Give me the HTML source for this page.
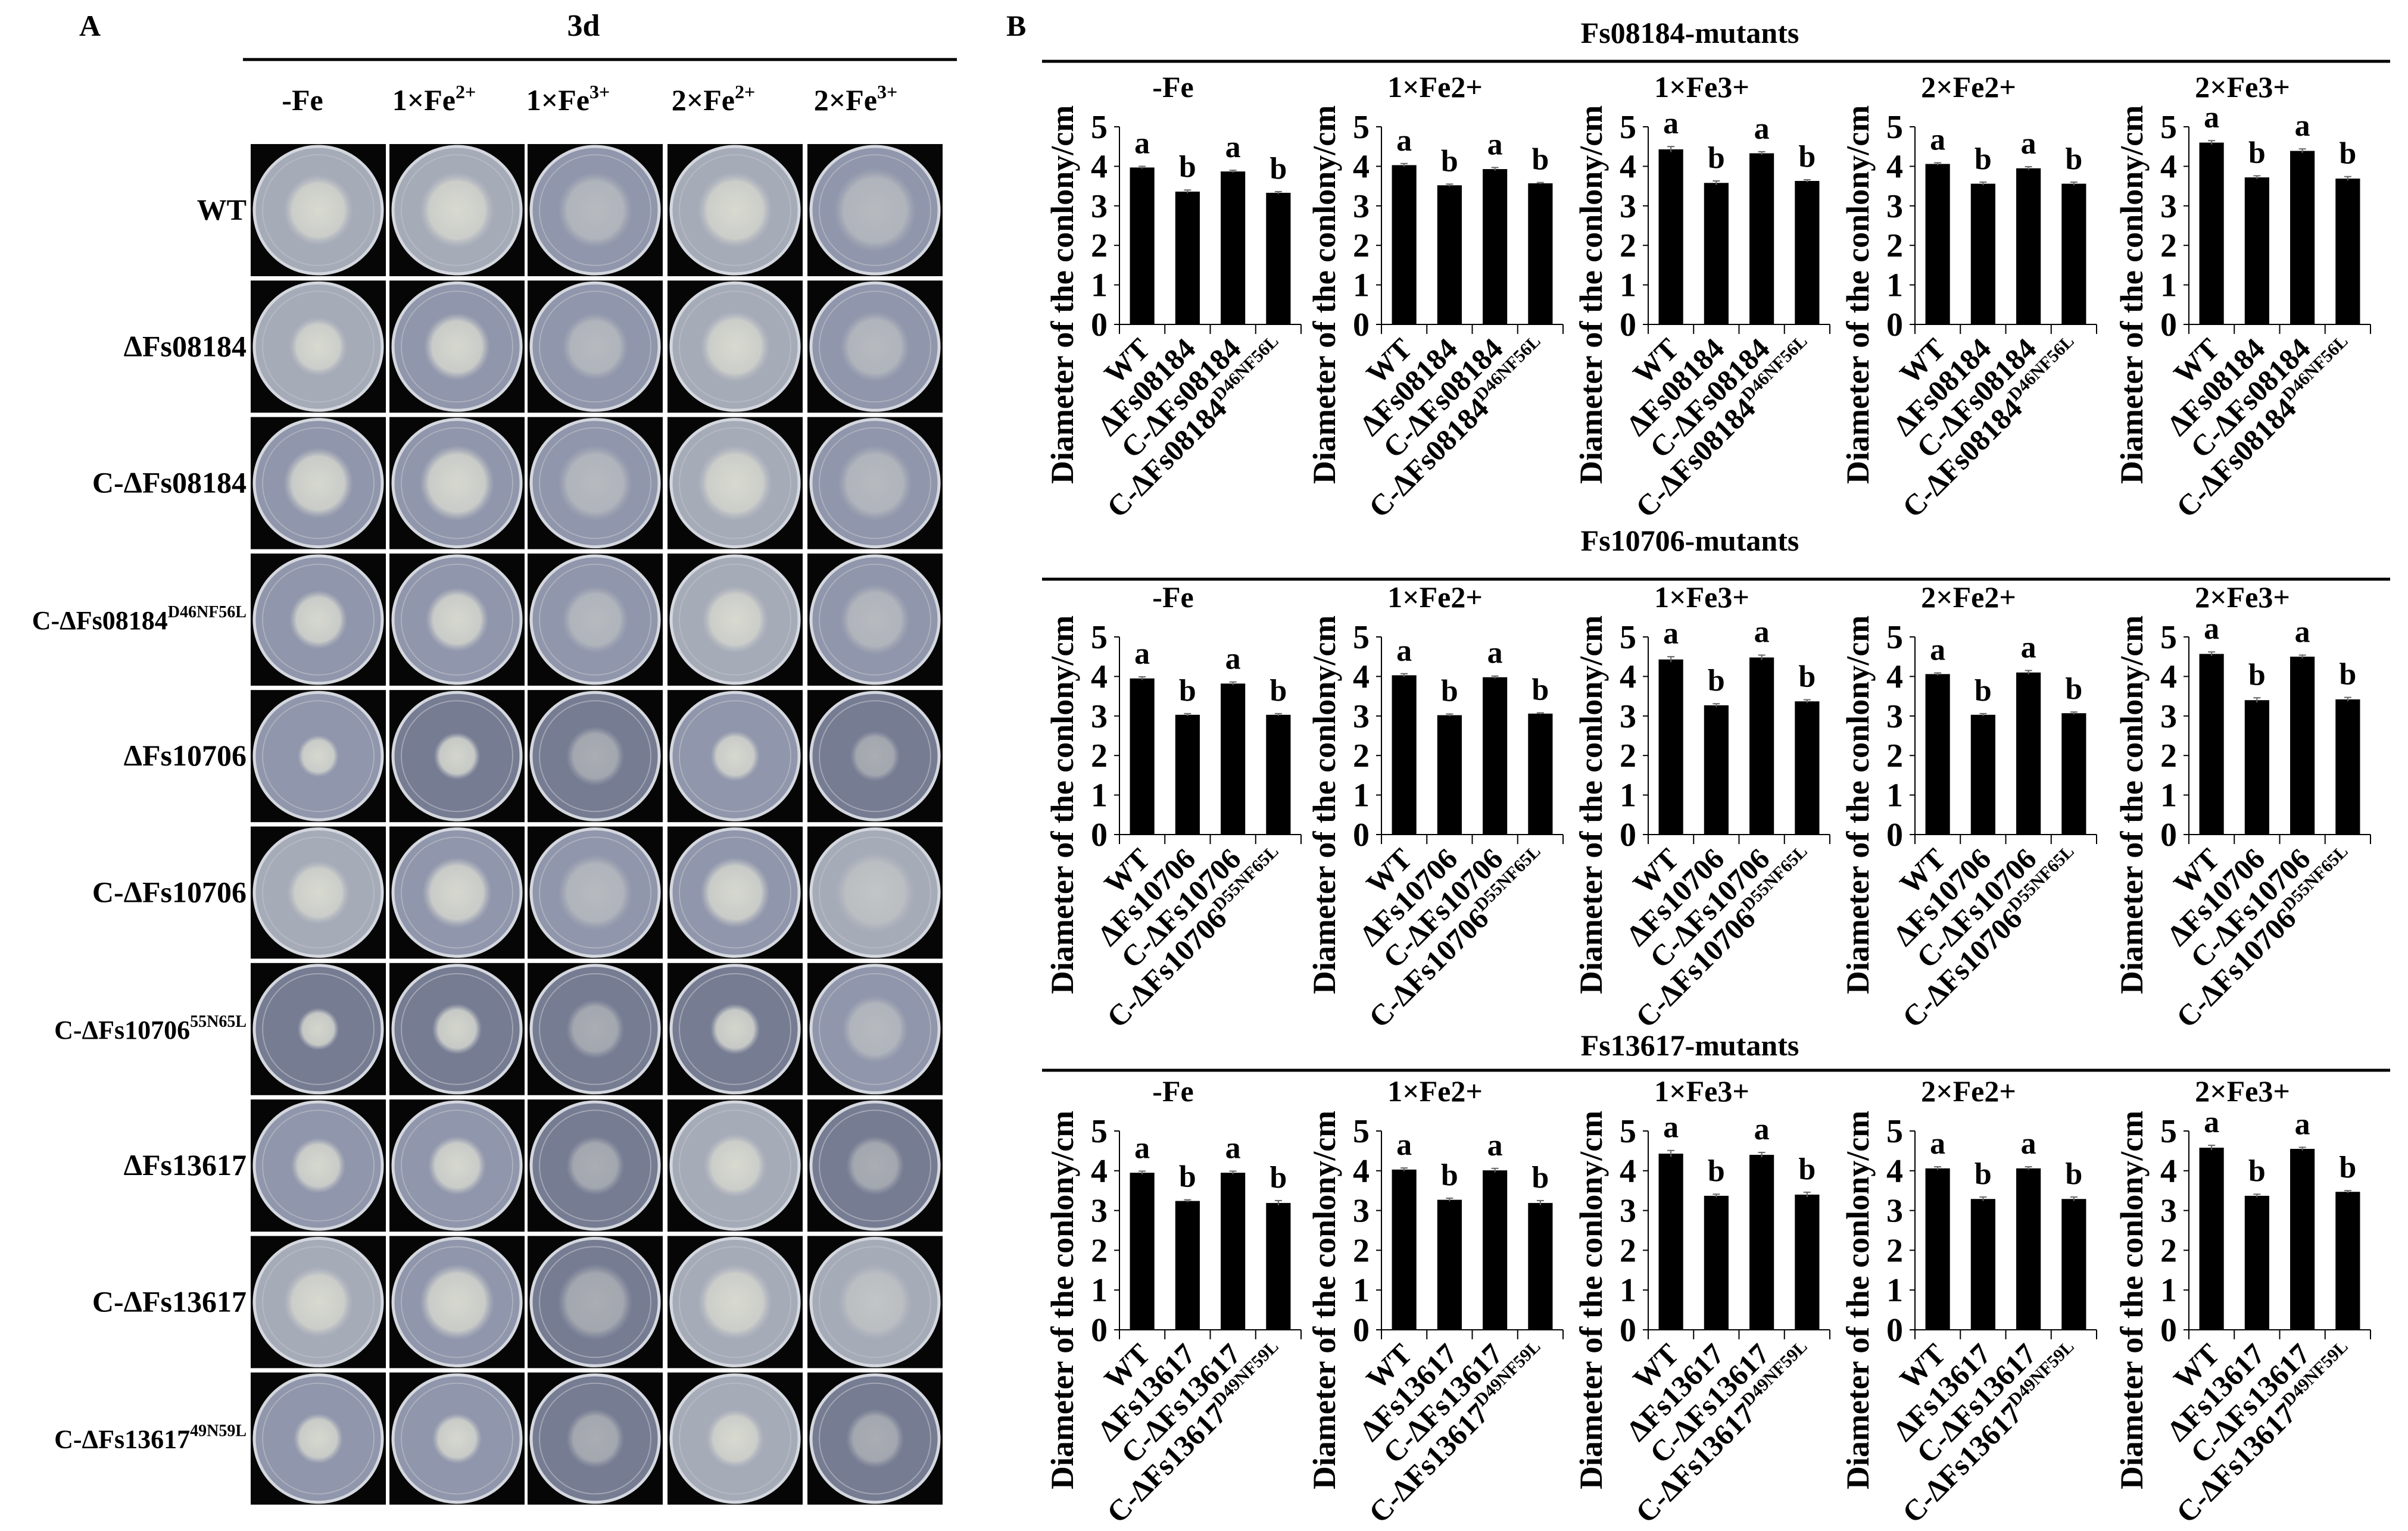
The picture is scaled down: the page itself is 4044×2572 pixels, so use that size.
<!DOCTYPE html>
<html><head><meta charset="utf-8"><style>
html,body{margin:0;padding:0;background:#fff;}
svg{display:block;}
text{font-family:"Liberation Serif",serif;font-weight:bold;fill:#000;}
</style></head><body>
<svg id="fig" width="4044" height="2572" viewBox="0 0 4044 2572" xmlns="http://www.w3.org/2000/svg">
<defs>
<radialGradient id="colG" cx="50%" cy="50%" r="50%"><stop offset="0" stop-color="#dedfd3"/><stop offset="0.75" stop-color="#cfd1cb"/><stop offset="1" stop-color="#b9bdc6" stop-opacity="0"/></radialGradient>
</defs>
<text x="133" y="60" font-size="50">A</text>
<text x="1690" y="60" font-size="50">B</text>
<text x="980" y="60" font-size="52" text-anchor="middle">3d</text>
<line x1="408" y1="100" x2="1607" y2="100" stroke="#000" stroke-width="5"/>
<g id="photos"></g>
<g id="charts"></g>
</svg>
<script>
const NS="http://www.w3.org/2000/svg";
const svg=document.getElementById('fig');
function el(tag,attrs,parent,txt){const e=document.createElementNS(NS,tag);for(const k in attrs)e.setAttribute(k,attrs[k]);if(txt!==undefined)e.textContent=txt;(parent||svg).appendChild(e);return e;}

// ---- Panel A data ----
const conditionsA=["-Fe","1×Fe","1×Fe","2×Fe","2×Fe"];
const conditionSupA=["","2+","3+","2+","3+"];
const strainsA=["WT","ΔFs08184","C-ΔFs08184","C-ΔFs08184","ΔFs10706","C-ΔFs10706","C-ΔFs10706","ΔFs13617","C-ΔFs13617","C-ΔFs13617"];
const strainSupA=["","","","D46NF56L","","","55N65L","","","49N59L"];
const colonyA=[[0.42,0.45,0.45,0.45,0.5],[0.35,0.4,0.4,0.42,0.42],[0.42,0.45,0.45,0.45,0.45],[0.35,0.38,0.4,0.4,0.42],[0.25,0.28,0.35,0.3,0.3],[0.38,0.42,0.45,0.42,0.48],[0.25,0.3,0.35,0.3,0.4],[0.33,0.35,0.35,0.38,0.35],[0.42,0.45,0.45,0.45,0.45],[0.3,0.3,0.35,0.35,0.35]];
const plateTone=[[0,0,1,0,1],[0,1,1,0,1],[1,1,1,0,1],[1,1,1,0,1],[1,2,2,1,2],[0,1,1,1,0],[2,2,2,2,1],[1,1,2,0,2],[0,1,2,0,0],[1,1,2,0,2]];
const toneCols=["#a6abb8","#9096ab","#767c92"];
const colX=[421,654,886,1121,1356], colW=227, rowY0=242, rowH=229.3, cellH=222;
const headerX=[508,729,954,1198,1437];
const photos=document.getElementById('photos');
conditionsA.forEach((c,i)=>{
  const t=el('text',{x:headerX[i],y:185,'font-size':50,'text-anchor':'middle'});
  
  
  t.appendChild(document.createTextNode(c));
  if(conditionSupA[i]){el('tspan',{'font-size':32,dy:-20},t,conditionSupA[i]);}
});
strainsA.forEach((s,r)=>{
  const y=rowY0+r*rowH;
  const sup=strainSupA[r];
  const t=el('text',{x:414,y:y+cellH/2+16,'font-size':sup?44:50,'text-anchor':'end'});
  
  
  t.appendChild(document.createTextNode(s));
  if(sup){el('tspan',{'font-size':28,dy:-20},t,sup);}
  for(let c=0;c<5;c++){
    const x=colX[c];
    const g=el('g',{},photos);
    
    
    el('rect',{x:x,y:y,width:colW,height:cellH,fill:'#060606'},g);
    const cx=x+colW/2, cy=y+cellH/2, rx=colW/2-6, ry=cellH/2-4;
    el('ellipse',{cx:cx,cy:cy,rx:rx,ry:ry,fill:toneCols[plateTone[r][c]],stroke:'#d4d7de','stroke-width':5},g);
    el('ellipse',{cx:cx,cy:cy,rx:rx-14,ry:ry-14,fill:'none',stroke:'#bfc3cc','stroke-width':2,opacity:0.6},g);
    const cr=colonyA[r][c]*rx*1.3;
    el('ellipse',{cx:cx,cy:cy,rx:cr,ry:cr*1.02,fill:'url(#colG)',opacity:(c===2||c===4)?0.5:0.9},g);
  }
});

// ---- Panel B data ----
const groupTitles=["Fs08184-mutants","Fs10706-mutants","Fs13617-mutants"];
const subTitles=["-Fe","1×Fe2+","1×Fe3+","2×Fe2+","2×Fe3+"];
const geneNames=["Fs08184","Fs10706","Fs13617"];
const mutSup=["D46NF56L","D55NF65L","D49NF59L"];
const yTicks=[0,1,2,3,4,5];
const sigLetters=["a","b","a","b"];
const values08184=[[3.97,3.36,3.87,3.33],[4.03,3.52,3.93,3.57],[4.43,3.58,4.33,3.63],[4.06,3.56,3.95,3.56],[4.60,3.72,4.39,3.69]];
const values10706=[[3.95,3.03,3.82,3.03],[4.03,3.02,3.98,3.06],[4.43,3.27,4.48,3.37],[4.06,3.03,4.10,3.07],[4.57,3.40,4.50,3.42]];
const values13617=[[3.95,3.24,3.95,3.19],[4.03,3.27,4.01,3.19],[4.43,3.37,4.40,3.40],[4.06,3.29,4.06,3.29],[4.58,3.37,4.55,3.47]];
const errs08184=[[0.03,0.04,0.03,0.03],[0.04,0.03,0.04,0.02],[0.07,0.05,0.04,0.03],[0.03,0.04,0.04,0.04],[0.05,0.04,0.05,0.05]];
const errs10706=[[0.04,0.03,0.04,0.03],[0.04,0.03,0.03,0.02],[0.07,0.04,0.06,0.04],[0.03,0.03,0.05,0.03],[0.05,0.06,0.04,0.05]];
const errs13617=[[0.04,0.03,0.04,0.06],[0.04,0.04,0.05,0.06],[0.08,0.04,0.06,0.06],[0.04,0.05,0.04,0.05],[0.06,0.04,0.04,0.03]];
const allValues=[values08184,values10706,values13617];
const allErrs=[errs08184,errs10706,errs13617];

const axisX=[1880,2320,2768,3216,3676], plotW=305;
const rowTop=[213,1070,1900], rowBot=[545,1402,2234];
const groupLineY=[103,973,1798], groupTitleY=[72,925,1773];
const charts=document.getElementById('charts');

groupTitles.forEach((gt,r)=>{
  const t=el('text',{x:2838,y:groupTitleY[r],'font-size':50,'text-anchor':'middle'},charts,gt);
  
  
  const l=el('line',{x1:1750,y1:groupLineY[r],x2:4014,y2:groupLineY[r],stroke:'#000','stroke-width':5},charts);
  
  
  for(let p=0;p<5;p++){
    const g=el('g',{},charts);
    
    
    const x0=axisX[p], yT=rowTop[r], yB=rowBot[r];
    const yS=v=>yB-(v/5)*(yB-yT);
    const cw=plotW/4, bw=cw*0.54;
    const st=el('text',{x:x0+90,y:yT-50,'font-size':50,'text-anchor':'middle'},g,subTitles[p]);
    
    
    const yt=el('text',{x:0,y:0,'font-size':54,'text-anchor':'middle',transform:`translate(${x0-78},${yB-50}) rotate(-90)`},g,"Diameter of the conlony/cm");
    
    
    el('line',{x1:x0,y1:yT,x2:x0,y2:yB,stroke:'#000','stroke-width':2},g);
    el('line',{x1:x0,y1:yB,x2:x0+plotW,y2:yB,stroke:'#000','stroke-width':2},g);
    yTicks.forEach(v=>{
      el('line',{x1:x0-9,y1:yS(v),x2:x0,y2:yS(v),stroke:'#000','stroke-width':2},g);
      const tl=el('text',{x:x0-20,y:yS(v)+19,'font-size':56,'text-anchor':'end'},g,String(v));
      
      
    });
    for(let k=0;k<=4;k++){el('line',{x1:x0+k*cw,y1:yB,x2:x0+k*cw,y2:yB+16,stroke:'#000','stroke-width':2},g);}
    const vals=allValues[r][p], er=allErrs[r][p];
    const cats=["WT","Δ"+geneNames[r],"C-Δ"+geneNames[r],"C-Δ"+geneNames[r]];
    vals.forEach((v,k)=>{
      const cx=x0+cw*(k+0.5);
      const b=el('rect',{x:cx-bw/2,y:yS(v),width:bw,height:yB-yS(v),fill:'#000'},g);
      
      
      const e1=yS(v+er[k]);
      el('line',{x1:cx,y1:e1,x2:cx,y2:yS(v-er[k]),stroke:'#666','stroke-width':2},g);
      el('line',{x1:cx-6,y1:e1,x2:cx+6,y2:e1,stroke:'#666','stroke-width':2},g);
      const lt=el('text',{x:cx,y:e1-22,'font-size':52,'text-anchor':'middle'},g,sigLetters[k]);
      
      
      const xl=el('text',{x:0,y:0,'font-size':50,'text-anchor':'end',transform:`translate(${cx+16},${yB+44}) rotate(-45)`},g);
      
      
      xl.appendChild(document.createTextNode(cats[k]));
      if(k===3){el('tspan',{'font-size':30,dy:-20},xl,mutSup[r]);}
    });
  }
});
</script>
</body></html>
